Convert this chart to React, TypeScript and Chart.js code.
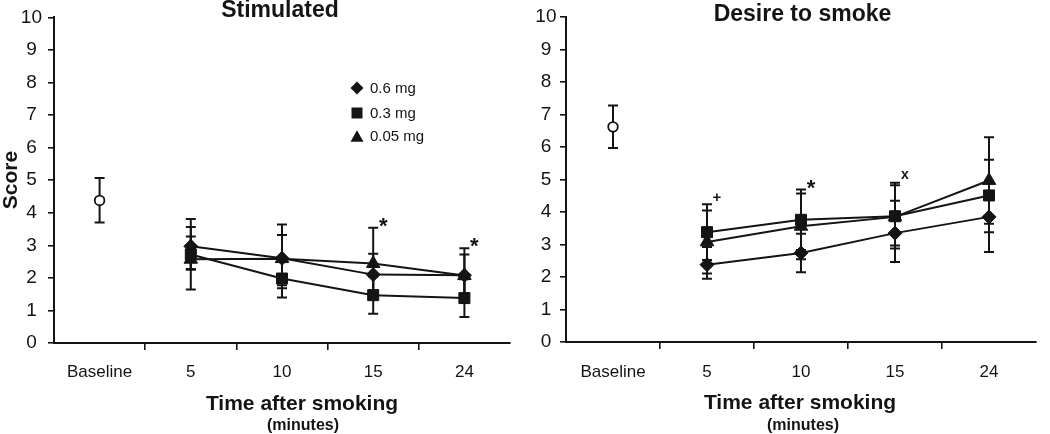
import React, { useEffect, useRef } from 'react';
import { Chart, registerables } from 'chart.js';

Chart.register(...registerables);

// ---------- data ----------
const categories = ['Baseline', '5', '10', '15', '24'];
const doseLabels = ['0.6 mg', '0.3 mg', '0.05 mg'];

// Stimulated
const stimBaseline = [4.38, null, null, null, null];
const stimBaselinePlus = [0.69, 0, 0, 0, 0];
const stimBaselineMinus = [0.68, 0, 0, 0, 0];
const stim06 = [null, 2.97, 2.6, 2.1, 2.08];
const stim06Plus = [0, 0.84, 1.04, 0.64, 0.64];
const stim06Minus = [0, 0.72, 0.92, 0.64, 0.64];
const stim03 = [null, 2.72, 1.98, 1.47, 1.38];
const stim03Plus = [0, 0.84, 0.58, 0.57, 0.58];
const stim03Minus = [0, 1.08, 0.58, 0.57, 0.58];
const stim005 = [null, 2.57, 2.59, 2.44, 2.07];
const stim005Plus = [0, 0.7, 0.73, 1.1, 0.84];
const stim005Minus = [0, 0.3, 0.82, 1.1, 0.84];
const stimMarks = ['', '', '', '*', '*'];

// Desire to smoke
const desireBaseline = [6.62, null, null, null, null];
const desireBaselinePlus = [0.66, 0, 0, 0, 0];
const desireBaselineMinus = [0.65, 0, 0, 0, 0];
const desire06 = [null, 2.38, 2.74, 3.35, 3.85];
const desire06Plus = [0, 0.54, 0.59, 1.0, 1.1];
const desire06Minus = [0, 0.43, 0.59, 0.89, 1.08];
const desire03 = [null, 3.38, 3.76, 3.87, 4.51];
const desire03Plus = [0, 0.86, 0.93, 1.03, 1.1];
const desire03Minus = [0, 0.86, 0.93, 0.9, 1.13];
const desire005 = [null, 3.08, 3.56, 3.85, 4.97];
const desire005Plus = [0, 0.97, 1.01, 0.97, 1.33];
const desire005Minus = [0, 0.97, 1.01, 0.97, 1.33];
const desireMarks = ['', '+', '*', 'x', ''];

const yMin = 0;
const yMax = 10;
const yStep = 1;

// ---------- styling ----------
const INK = '#141414';
const FONT = '"Liberation Sans", Arial, Helvetica, sans-serif';
const pointStyles = ['rectRot', 'rect', 'triangle'];
const pointRadii = [7, 7.8, 7.8];

type Layout = {
  left: number;
  width: number;
  padTop: number;
  padRight: number;
  yWidth: number;
  xHeight: number;
  yTickPad: number;
  xTickPad: number;
  title: string;
  titleX: number;
  titleBase: number;
  xTitleX: number;
  xTitleBase: number;
  minX: number;
  minBase: number;
  yTitle: boolean;
  legend: boolean;
};

type PanelData = {
  baseline: (number | null)[];
  basePlus: number[];
  baseMinus: number[];
  series: (number | null)[][];
  plus: number[][];
  minus: number[][];
  marks: string[];
};

const stimData: PanelData = {
  baseline: stimBaseline,
  basePlus: stimBaselinePlus,
  baseMinus: stimBaselineMinus,
  series: [stim06, stim03, stim005],
  plus: [stim06Plus, stim03Plus, stim005Plus],
  minus: [stim06Minus, stim03Minus, stim005Minus],
  marks: stimMarks,
};

const desireData: PanelData = {
  baseline: desireBaseline,
  basePlus: desireBaselinePlus,
  baseMinus: desireBaselineMinus,
  series: [desire06, desire03, desire005],
  plus: [desire06Plus, desire03Plus, desire005Plus],
  minus: [desire06Minus, desire03Minus, desire005Minus],
  marks: desireMarks,
};

const leftLayout: Layout = {
  left: 0,
  width: 520,
  padTop: 16,
  padRight: 10,
  yWidth: 54,
  xHeight: 91,
  yTickPad: 6,
  xTickPad: 12,
  title: 'Stimulated',
  titleX: 280,
  titleBase: 17,
  xTitleX: 302,
  xTitleBase: 410,
  minX: 303,
  minBase: 430,
  yTitle: true,
  legend: true,
};

const rightLayout: Layout = {
  left: 520,
  width: 530,
  padTop: 17,
  padRight: 14,
  yWidth: 46,
  xHeight: 92,
  yTickPad: 3.5,
  xTickPad: 13,
  title: 'Desire to smoke',
  titleX: 282.5,
  titleBase: 21,
  xTitleX: 280,
  xTitleBase: 409,
  minX: 283,
  minBase: 430,
  yTitle: false,
  legend: false,
};

const errorBarPlugin = {
  id: 'errorBars',
  beforeDatasetsDraw(chart: any) {
    const ctx = chart.ctx;
    const yScale = chart.scales.y;
    ctx.save();
    ctx.strokeStyle = INK;
    ctx.lineWidth = 2;
    chart.data.datasets.forEach((ds: any, di: number) => {
      if (!ds.errPlus) return;
      const meta = chart.getDatasetMeta(di);
      ds.data.forEach((v: number | null, i: number) => {
        if (v === null || v === undefined) return;
        const el = meta.data[i];
        if (!el) return;
        const x = el.x;
        const yt = yScale.getPixelForValue(v + (ds.errPlus[i] || 0));
        const yb = yScale.getPixelForValue(v - (ds.errMinus[i] || 0));
        const cap = 5;
        ctx.beginPath();
        ctx.moveTo(x, yt);
        ctx.lineTo(x, yb);
        ctx.moveTo(x - cap, yt);
        ctx.lineTo(x + cap, yt);
        ctx.moveTo(x - cap, yb);
        ctx.lineTo(x + cap, yb);
        ctx.stroke();
      });
    });
    ctx.restore();
  },
};

function drawShape(ctx: CanvasRenderingContext2D, style: string, x: number, y: number) {
  ctx.beginPath();
  if (style === 'rectRot') {
    const r = 6.5;
    ctx.moveTo(x - r, y);
    ctx.lineTo(x, y - r);
    ctx.lineTo(x + r, y);
    ctx.lineTo(x, y + r);
  } else if (style === 'rect') {
    const s = 5.5;
    ctx.rect(x - s, y - s, 2 * s, 2 * s);
  } else {
    const w = 6.5;
    const h = 11.5;
    ctx.moveTo(x, y - h / 2);
    ctx.lineTo(x + w, y + h / 2);
    ctx.lineTo(x - w, y + h / 2);
  }
  ctx.closePath();
  ctx.fill();
}

function makeOverlay(L: Layout, marks: string[]) {
  return {
    id: 'overlay',
    afterDraw(chart: any) {
      const ctx: CanvasRenderingContext2D = chart.ctx;
      const xScale = chart.scales.x;
      const yScale = chart.scales.y;
      ctx.save();
      ctx.fillStyle = INK;
      ctx.textBaseline = 'alphabetic';
      ctx.textAlign = 'center';

      ctx.font = `bold 23px ${FONT}`;
      ctx.fillText(L.title, L.titleX, L.titleBase);

      ctx.font = `bold 21px ${FONT}`;
      ctx.fillText('Time after smoking', L.xTitleX, L.xTitleBase);
      ctx.font = `bold 16px ${FONT}`;
      ctx.fillText('(minutes)', L.minX, L.minBase);

      if (L.yTitle) {
        ctx.save();
        ctx.translate(17, 180);
        ctx.rotate(-Math.PI / 2);
        ctx.font = `bold 21px ${FONT}`;
        ctx.fillText('Score', 0, 0);
        ctx.restore();
      }

      if (L.legend) {
        const ys = [88, 113, 136];
        chart.data.datasets.forEach((ds: any, i: number) => {
          if (!ds.inLegend) return;
          drawShape(ctx, ds.pointStyle, 357, ys[i]);
          ctx.font = `15px ${FONT}`;
          ctx.textAlign = 'left';
          ctx.textBaseline = 'middle';
          ctx.fillText(ds.label, 370, ys[i] + 1);
        });
      }

      // significance marks above the highest error bar of each time point
      ctx.textAlign = 'center';
      ctx.textBaseline = 'alphabetic';
      marks.forEach((m, i) => {
        if (!m) return;
        let top = Infinity;
        chart.data.datasets.forEach((ds: any) => {
          const v = ds.data[i];
          if (v === null || v === undefined) return;
          const p = yScale.getPixelForValue(v + (ds.errPlus ? ds.errPlus[i] : 0));
          if (p < top) top = p;
        });
        const cx = xScale.getPixelForValue(i) + 10;
        const cy = top - 7;
        if (m === '*') {
          ctx.font = `bold 22px ${FONT}`;
          ctx.fillText(m, cx, cy + 12);
        } else if (m === '+') {
          ctx.font = `bold 15px ${FONT}`;
          ctx.fillText(m, cx, cy + 5);
        } else {
          ctx.font = `bold 14px ${FONT}`;
          ctx.fillText(m, cx, cy + 3.5);
        }
      });
      ctx.restore();
    },
  };
}

function buildConfig(L: Layout, D: PanelData): any {
  const datasets: any[] = D.series.map((data, i) => ({
    type: 'line',
    label: doseLabels[i],
    data,
    borderColor: INK,
    backgroundColor: INK,
    borderWidth: 2,
    pointStyle: pointStyles[i],
    pointRadius: pointRadii[i],
    pointBackgroundColor: INK,
    pointBorderColor: INK,
    pointBorderWidth: 1,
    tension: 0,
    spanGaps: false,
    errPlus: D.plus[i],
    errMinus: D.minus[i],
    inLegend: true,
  }));
  datasets.push({
    type: 'line',
    label: 'Baseline',
    data: D.baseline,
    showLine: false,
    borderColor: INK,
    pointStyle: 'circle',
    pointRadius: 4.8,
    pointBackgroundColor: '#ffffff',
    pointBorderColor: INK,
    pointBorderWidth: 1.8,
    errPlus: D.basePlus,
    errMinus: D.baseMinus,
    inLegend: false,
  });

  return {
    type: 'line',
    data: { labels: categories, datasets },
    options: {
      responsive: false,
      animation: false,
      events: [],
      layout: { padding: { left: 0, right: L.padRight, top: L.padTop, bottom: 0 } },
      plugins: {
        legend: { display: false },
        tooltip: { enabled: false },
        title: { display: false },
      },
      scales: {
        x: {
          type: 'category',
          offset: true,
          grid: {
            offset: true,
            drawOnChartArea: false,
            drawTicks: true,
            tickLength: 7,
            lineWidth: 1.6,
            tickColor: (c: any) =>
              c.index === undefined || c.index === 0 ? 'rgba(0,0,0,0)' : INK,
          },
          border: { display: true, color: INK, width: 2 },
          ticks: {
            color: INK,
            font: { family: FONT, size: 17 },
            padding: L.xTickPad,
            maxRotation: 0,
            autoSkip: false,
          },
          afterFit: (s: any) => {
            s.height = L.xHeight;
          },
        },
        y: {
          min: yMin,
          max: yMax,
          grid: {
            drawOnChartArea: false,
            drawTicks: true,
            tickLength: 6,
            lineWidth: 1.6,
            tickColor: INK,
          },
          border: { display: true, color: INK, width: 2 },
          ticks: {
            stepSize: yStep,
            color: INK,
            crossAlign: 'center',
            font: { family: FONT, size: 19 },
            padding: L.yTickPad,
          },
          afterFit: (s: any) => {
            s.width = L.yWidth;
          },
        },
      },
    },
    plugins: [errorBarPlugin, makeOverlay(L, D.marks)],
  };
}

function Panel({ L, D }: { L: Layout; D: PanelData }) {
  const ref = useRef<HTMLCanvasElement | null>(null);
  useEffect(() => {
    if (!ref.current) return;
    const chart = new Chart(ref.current, buildConfig(L, D));
    return () => chart.destroy();
  }, []);
  return (
    <canvas
      ref={ref}
      width={L.width}
      height={434}
      style={{ position: 'absolute', left: L.left, top: 0, width: L.width, height: 434 }}
    />
  );
}

export default function App() {
  return (
    <div
      style={{
        position: 'absolute',
        left: 0,
        top: 0,
        width: 1050,
        height: 434,
        background: '#ffffff',
        overflow: 'hidden',
      }}
    >
      <Panel L={leftLayout} D={stimData} />
      <Panel L={rightLayout} D={desireData} />
    </div>
  );
}
